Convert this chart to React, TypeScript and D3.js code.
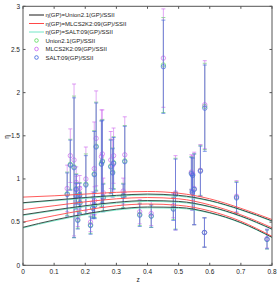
import React, { useEffect, useRef } from "react";
import * as d3 from "d3";

// redshifts of the clusters
const zVals = [0.142, 0.152, 0.164, 0.171, 0.171, 0.176, 0.182, 0.183, 0.202, 0.217, 0.224, 0.229, 0.23, 0.235, 0.252, 0.255, 0.258, 0.282, 0.288, 0.291, 0.322, 0.327, 0.375, 0.412, 0.451, 0.483, 0.49, 0.541, 0.544, 0.545, 0.55, 0.57, 0.583, 0.584, 0.686, 0.784];

const etaUnion = [0.83, 1.17, 1.14, 0.89, 0.81, 0.53, 0.82, 0.73, 0.94, 0.47, 0.67, 1.06, 0.7, 1.38, 1.18, 1.21, 0.79, 1.15, 1.08, 1.19, 0.81, 1.21, 0.59, 0.57, 2.32, 0.66, 0.83, 1.07, 0.85, 1.05, 0.88, 1.1, 0.38, 1.84, 0.79, 0.3];
const errUnion = [0.25, 0.29, 0.82, 0.17, 0.15, 0.1, 0.14, 0.12, 0.35, 0.1, 0.12, 0.5, 0.15, 0.51, 0.5, 0.48, 0.16, 0.31, 0.28, 0.3, 0.14, 0.41, 0.13, 0.13, 0.55, 0.13, 0.41, 0.19, 0.2, 0.2, 0.41, 0.29, 0.17, 0.5, 0.18, 0.11];

const etaMlcs = [0.89, 1.27, 1.22, 0.96, 0.87, 0.56, 0.89, 0.78, 1.0, 0.5, 0.72, 1.12, 0.75, 1.47, 1.26, 1.29, 0.84, 1.22, 1.16, 1.27, 0.86, 1.28, 0.62, 0.6, 2.4, 0.69, 0.84, 1.08, 0.85, 1.06, 0.89, 1.1, 0.38, 1.86, 0.8, 0.31];
const errMlcs = [0.27, 0.31, 0.88, 0.18, 0.16, 0.11, 0.15, 0.13, 0.37, 0.11, 0.13, 0.54, 0.16, 0.55, 0.54, 0.51, 0.17, 0.33, 0.3, 0.32, 0.15, 0.44, 0.14, 0.14, 0.57, 0.14, 0.43, 0.2, 0.21, 0.21, 0.42, 0.3, 0.17, 0.51, 0.18, 0.11];

const etaSalt = [0.82, 1.16, 1.13, 0.88, 0.8, 0.52, 0.81, 0.72, 0.93, 0.46, 0.66, 1.05, 0.69, 1.37, 1.17, 1.2, 0.78, 1.14, 1.07, 1.18, 0.8, 1.2, 0.58, 0.57, 2.3, 0.65, 0.82, 1.06, 0.84, 1.04, 0.88, 1.09, 0.38, 1.82, 0.78, 0.3];
const errSalt = [0.25, 0.29, 0.81, 0.17, 0.15, 0.1, 0.14, 0.12, 0.34, 0.1, 0.12, 0.5, 0.15, 0.51, 0.5, 0.48, 0.16, 0.31, 0.28, 0.3, 0.14, 0.41, 0.13, 0.13, 0.54, 0.13, 0.41, 0.19, 0.2, 0.2, 0.41, 0.29, 0.17, 0.5, 0.18, 0.11];

// reconstructed eta(z) curves (upper / mean / lower), sampled at curveZ
const curveZ = [0, 0.1, 0.2, 0.3, 0.4, 0.5, 0.6, 0.7, 0.8];
const unionUp = [0.725, 0.755, 0.785, 0.81, 0.825, 0.81, 0.75, 0.645, 0.515];
const unionMid = [0.585, 0.64, 0.69, 0.73, 0.75, 0.74, 0.68, 0.57, 0.42];
const unionLow = [0.44, 0.525, 0.595, 0.65, 0.675, 0.67, 0.61, 0.495, 0.325];
const mlcsUp = [0.79, 0.805, 0.825, 0.845, 0.855, 0.835, 0.77, 0.66, 0.53];
const mlcsMid = [0.645, 0.69, 0.735, 0.77, 0.785, 0.77, 0.7, 0.585, 0.435];
const mlcsLow = [0.5, 0.575, 0.64, 0.69, 0.71, 0.695, 0.63, 0.51, 0.335];
const saltUp = [0.72, 0.748, 0.775, 0.8, 0.815, 0.8, 0.745, 0.64, 0.51];
const saltMid = [0.578, 0.632, 0.68, 0.72, 0.74, 0.73, 0.675, 0.565, 0.415];
const saltLow = [0.432, 0.515, 0.585, 0.64, 0.665, 0.66, 0.605, 0.49, 0.32];

const xTicks = [0, 0.1, 0.2, 0.3, 0.4, 0.5, 0.6, 0.7, 0.8];
const yTicks = [0, 0.5, 1, 1.5, 2, 2.5, 3];

const legendNames = [
  "η(GP)=Union2.1(GP)/SSII",
  "η(GP)=MLCS2K2:09(GP)/SSII",
  "η(GP)=SALT:09(GP)/SSII",
  "Union2.1(GP)/SSII",
  "MLCS2K2:09(GP)/SSII",
  "SALT:09(GP)/SSII",
];

const App = () => {
  const ref = useRef<SVGSVGElement>(null);

  useEffect(() => {
    const svg = d3.select(ref.current);
    svg.selectAll("*").remove();

    const left = 23, right = 272, top = 6.3, bottom = 265.3;
    const x = d3.scaleLinear().domain([0, 0.8]).range([left, right]);
    const y = d3.scaleLinear().domain([0, 3]).range([bottom, top]);
    const font = "Liberation Sans, Arial, sans-serif";

    const plot = svg.append("g");

    // error bars + markers
    const series = [
      { eta: etaUnion, err: errUnion, color: "#66dd66" },
      { eta: etaMlcs, err: errMlcs, color: "#d070f0" },
      { eta: etaSalt, err: errSalt, color: "#4a6ee0" },
    ];
    series.forEach(s => {
      const g = plot.append("g");
      zVals.forEach((z, i) => {
        const cx = x(z);
        const y0 = y(s.eta[i] - s.err[i]);
        const y1 = y(Math.min(3, s.eta[i] + s.err[i]));
        g.append("line").attr("x1", cx).attr("x2", cx).attr("y1", y0).attr("y2", y1)
          .attr("stroke", s.color).attr("stroke-width", 1).attr("opacity", 0.6);
        [y0, y1].forEach(yy => {
          g.append("line").attr("x1", cx - 2).attr("x2", cx + 2).attr("y1", yy).attr("y2", yy)
            .attr("stroke", s.color).attr("stroke-width", 0.8).attr("opacity", 0.85);
        });
        g.append("circle").attr("cx", cx).attr("cy", y(s.eta[i])).attr("r", 2.2)
          .attr("fill", "none").attr("stroke", s.color).attr("stroke-width", 0.8).attr("opacity", 0.9);
      });
    });

    // curves
    const line = d3.line<number>()
      .x((d, i) => x(curveZ[i]))
      .y(d => y(d))
      .curve(d3.curveMonotoneX);
    const curves = [
      { data: [saltUp, saltMid, saltLow], color: "#72e6c6" },
      { data: [unionUp, unionMid, unionLow], color: "#2a3a34" },
      { data: [mlcsUp, mlcsMid, mlcsLow], color: "#ff4848" },
    ];
    curves.forEach(c => {
      c.data.forEach(arr => {
        plot.append("path").attr("d", line(arr)).attr("fill", "none")
          .attr("stroke", c.color).attr("stroke-width", 0.9);
      });
    });

    // frame and ticks
    const frame = "#555";
    svg.append("rect").attr("x", left).attr("y", top).attr("width", right - left).attr("height", bottom - top)
      .attr("fill", "none").attr("stroke", frame).attr("stroke-width", 1);
    xTicks.forEach(t => {
      svg.append("line").attr("x1", x(t)).attr("x2", x(t)).attr("y1", bottom).attr("y2", bottom - 2.5).attr("stroke", frame);
      svg.append("line").attr("x1", x(t)).attr("x2", x(t)).attr("y1", top).attr("y2", top + 2.5).attr("stroke", frame);
      svg.append("text").attr("x", x(t)).attr("y", 274).attr("text-anchor", "middle")
        .attr("font-size", 6.5).attr("font-family", font).attr("fill", "#222").text(String(t));
    });
    yTicks.forEach(t => {
      svg.append("line").attr("x1", left).attr("x2", left + 2.5).attr("y1", y(t)).attr("y2", y(t)).attr("stroke", frame);
      svg.append("line").attr("x1", right).attr("x2", right - 2.5).attr("y1", y(t)).attr("y2", y(t)).attr("stroke", frame);
      svg.append("text").attr("x", left - 3).attr("y", y(t) + 2.3).attr("text-anchor", "end")
        .attr("font-size", 6.5).attr("font-family", font).attr("fill", "#222").text(String(t));
    });
    svg.append("text").attr("x", 138).attr("y", 281.5).attr("text-anchor", "middle")
      .attr("font-size", 6.5).attr("font-family", font).attr("fill", "#222").text("z");
    svg.append("text").attr("transform", "translate(9,137) rotate(-90)").attr("text-anchor", "middle")
      .attr("font-size", 6.5).attr("font-family", font).attr("fill", "#222").text("η");

    // legend
    const legColors = ["#1a1a1a", "#ff4848", "#72e6c6", "#66dd66", "#d070f0", "#4a6ee0"];
    const leg = svg.append("g");
    legendNames.forEach((name, i) => {
      const ly = 15 + i * 8.5;
      if (i < 3) {
        leg.append("line").attr("x1", 29).attr("x2", 44).attr("y1", ly).attr("y2", ly)
          .attr("stroke", legColors[i]).attr("stroke-width", 1);
      } else {
        leg.append("circle").attr("cx", 36.5).attr("cy", ly).attr("r", 1.8)
          .attr("fill", "none").attr("stroke", legColors[i]).attr("stroke-width", 0.9);
      }
      leg.append("text").attr("x", 45.5).attr("y", ly + 2.2).attr("font-size", 6)
        .attr("font-family", font).attr("fill", "#222").text(name);
    });
  }, []);

  return (
    <svg ref={ref} width={277} height={284} style={{ position: "absolute", left: 0, top: 0, background: "#fff" }} />
  );
};

export default App;
